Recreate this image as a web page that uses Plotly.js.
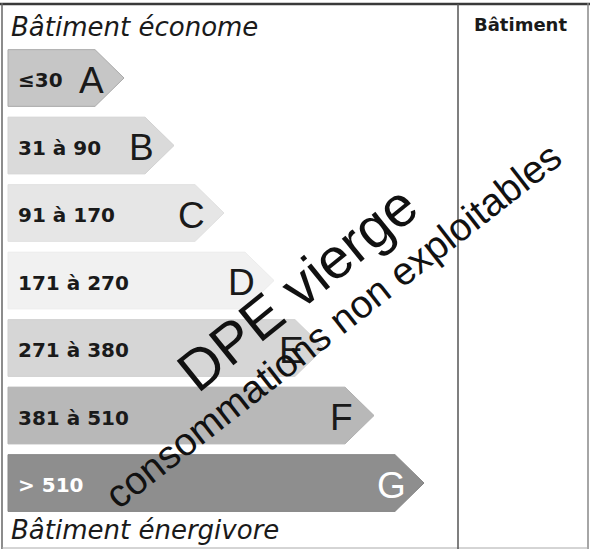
<!DOCTYPE html>
<html>
<head>
<meta charset="utf-8">
<script src="https://cdn.plot.ly/plotly-3.0.1.min.js"></script>
<style>html,body{margin:0;padding:0;background:#fff;}#chart{width:590px;height:551px;}</style>
</head>
<body>
<div id="chart"></div>
<script>
// ---- data ----
const classes = ['A', 'B', 'C', 'D', 'E', 'F', 'G'];
const rangeLabels = ['≤30', '31 à 90', '91 à 170', '171 à 270', '271 à 380', '381 à 510', '> 510'];
const classRank = [1, 2, 3, 4, 5, 6, 7];
const topLabel = 'Bâtiment économe';
const bottomLabel = 'Bâtiment énergivore';
const columnHeader = 'Bâtiment';
const watermarkMain = 'DPE vierge';
const watermarkSub = 'consommations non exploitables';

// ---- style ----
const fillColors = ['#c6c6c6', '#dadada', '#e6e6e6', '#f1f1f1', '#d6d6d6', '#b8b8b8', '#8e8e8e'];
const edgeColors = ['#a9a9a9', '#d2d2d2', '#e0e0e0', '#ececec', '#cfcfcf', '#b0b0b0', '#858585'];
const labelColors = ['#1a1a1a', '#1a1a1a', '#1a1a1a', '#1a1a1a', '#1a1a1a', '#1a1a1a', '#ffffff'];
const letterColors = ['#1a1a1a', '#1a1a1a', '#1a1a1a', '#1a1a1a', '#1a1a1a', '#1a1a1a', '#ffffff'];
const baseLen = 1.32;   // arrow length offset (axis units)
const tipDepth = 0.58;  // chevron depth
const halfH = 0.42;     // half arrow height (rows)

const traces = [];
const annotations = [];
classes.forEach((c, i) => {
  const tip = classRank[i] + baseLen;
  const body = tip - tipDepth;
  const r = i;
  traces.push({
    type: 'scatter', mode: 'lines',
    x: [0, body, tip, body, 0, 0],
    y: [r - halfH, r - halfH, r, r + halfH, r + halfH, r - halfH],
    fill: 'toself', fillcolor: fillColors[i],
    line: {color: edgeColors[i], width: 1},
    hoverinfo: 'skip', showlegend: false
  });
  annotations.push({
    xref: 'x', yref: 'y', x: 0.16, y: r + 0.03, xanchor: 'left', yanchor: 'middle',
    text: rangeLabels[i], showarrow: false,
    font: {family: 'DejaVu Sans', size: 20, color: labelColors[i], weight: 'bold'}
  });
  annotations.push({
    xref: 'x', yref: 'y', x: tip - 0.66, y: r + 0.03, xanchor: 'center', yanchor: 'middle',
    text: c, showarrow: false,
    font: {family: 'Liberation Sans', size: 37, color: letterColors[i]}
  });
});

annotations.push({
  xref: 'paper', yref: 'paper', x: 9 / 590, y: 1 - 27 / 551, xanchor: 'left', yanchor: 'middle',
  text: '<i>' + topLabel + '</i>', showarrow: false,
  font: {family: 'DejaVu Sans', size: 26, color: '#1a1a1a'}
});
annotations.push({
  xref: 'paper', yref: 'paper', x: 9 / 590, y: 1 - 530 / 551, xanchor: 'left', yanchor: 'middle',
  text: '<i>' + bottomLabel + '</i>', showarrow: false,
  font: {family: 'DejaVu Sans', size: 26, color: '#1a1a1a'}
});
annotations.push({
  xref: 'paper', yref: 'paper', x: 520 / 590, y: 1 - 24 / 551, xanchor: 'center', yanchor: 'middle',
  text: columnHeader, showarrow: false,
  font: {family: 'DejaVu Sans', size: 18, color: '#1a1a1a', weight: 'bold'}
});
annotations.push({
  xref: 'paper', yref: 'paper', x: 297 / 590, y: 1 - 288 / 551, xanchor: 'center', yanchor: 'middle',
  text: watermarkMain, showarrow: false, textangle: -39,
  font: {family: 'Liberation Sans', size: 57, color: '#111111'}
});
annotations.push({
  xref: 'paper', yref: 'paper', x: 333 / 590, y: 1 - 325 / 551, xanchor: 'center', yanchor: 'middle',
  text: watermarkSub, showarrow: false, textangle: -38,
  font: {family: 'Liberation Sans', size: 39, color: '#111111'}
});

const px = v => v / 590;
const py = v => 1 - v / 551;
const shapes = [
  {type: 'line', xref: 'paper', yref: 'paper', x0: px(0), x1: px(590), y0: py(4), y1: py(4), line: {color: '#3a3a3a', width: 2.5}},
  {type: 'line', xref: 'paper', yref: 'paper', x0: px(2), x1: px(2), y0: py(3), y1: py(549), line: {color: '#666666', width: 1.5}},
  {type: 'line', xref: 'paper', yref: 'paper', x0: px(588), x1: px(588), y0: py(3), y1: py(549), line: {color: '#888888', width: 1.5}},
  {type: 'line', xref: 'paper', yref: 'paper', x0: px(2), x1: px(588), y0: py(548), y1: py(548), line: {color: '#aaaaaa', width: 1}},
  {type: 'line', xref: 'paper', yref: 'paper', x0: px(458), x1: px(458), y0: py(4), y1: py(549), line: {color: '#555555', width: 1.5}}
];

const layout = {
  width: 590, height: 551,
  margin: {l: 0, r: 0, t: 0, b: 0, pad: 0},
  paper_bgcolor: '#ffffff', plot_bgcolor: '#ffffff',
  showlegend: false,
  xaxis: {range: [-0.16, 11.64], visible: false, fixedrange: true},
  yaxis: {range: [7.007, -1.1556], visible: false, fixedrange: true},
  annotations: annotations,
  shapes: shapes,
  hovermode: false
};

Plotly.newPlot('chart', traces, layout, {staticPlot: true, displayModeBar: false});
</script>
</body>
</html>
